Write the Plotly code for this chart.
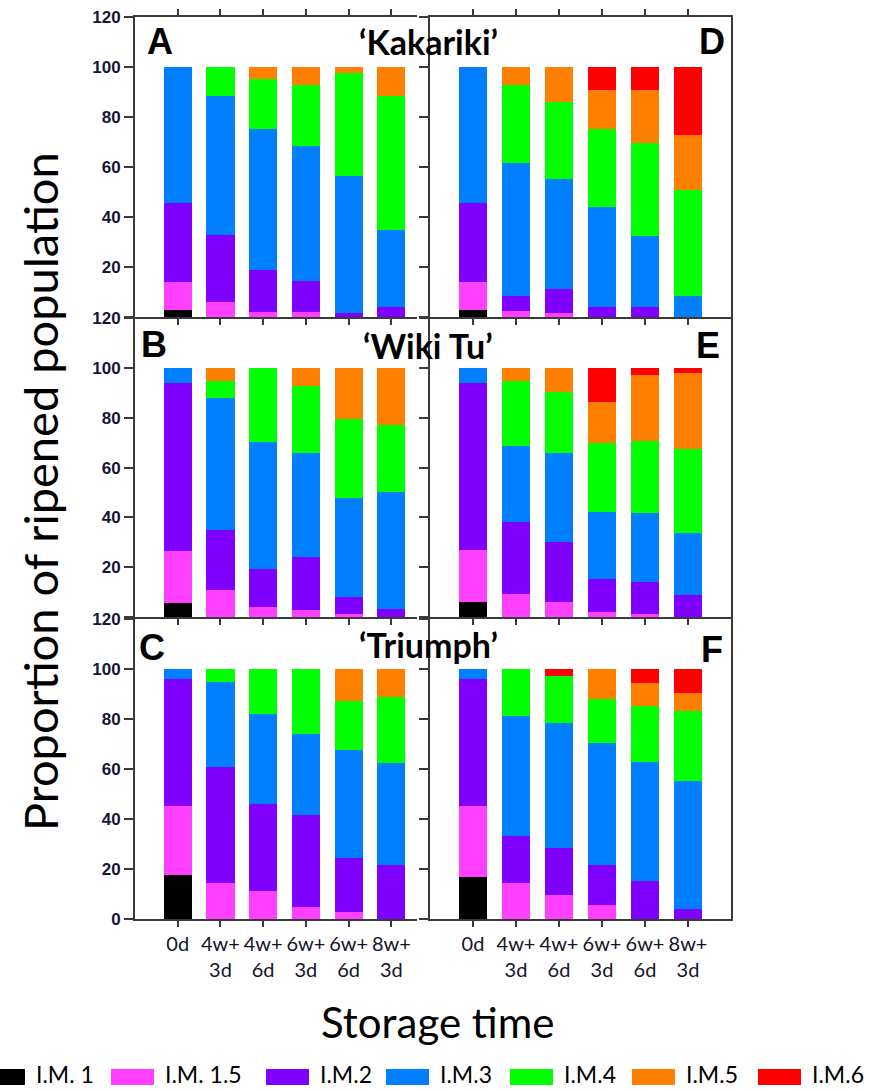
import plotly.graph_objects as go

W, H = 870, 1091

categories = ["0d", "4w+<br>3d", "4w+<br>6d", "6w+<br>3d", "6w+<br>6d", "8w+<br>3d"]
stages = ["I.M. 1", "I.M. 1.5", "I.M.2", "I.M.3", "I.M.4", "I.M.5", "I.M.6"]
colors = ["#000000", "#FF40FF", "#8000FF", "#0080FF", "#00FF00", "#FF8000", "#FF0000"]
cultivars = ["\u2018Kakariki\u2019", "\u2018Wiki Tu\u2019", "\u2018Triumph\u2019"]
y_ticks = [0, 20, 40, 60, 80, 100, 120]

# Each panel: one list per stage (I.M.1 ... I.M.6), values per storage time (%)
panel_A = [
    [3.0, 0, 0, 0, 0, 0],
    [11.2, 6.2, 2.3, 2.3, 0, 0],
    [31.3, 26.6, 16.6, 12.3, 1.6, 4.0],
    [54.5, 55.5, 56.2, 53.8, 54.8, 30.7],
    [0, 11.7, 20.0, 24.3, 40.9, 53.6],
    [0, 0, 4.9, 7.3, 2.7, 11.7],
    [0, 0, 0, 0, 0, 0],
]
panel_D = [
    [3.0, 0, 0, 0, 0, 0],
    [11.2, 2.7, 1.6, 0, 0, 0],
    [31.3, 5.8, 9.7, 4.0, 4.0, 0],
    [54.5, 52.9, 43.9, 39.9, 28.4, 8.5],
    [0, 31.3, 30.8, 31.2, 37.0, 42.3],
    [0, 7.3, 14.0, 15.5, 21.2, 22.1],
    [0, 0, 0, 9.4, 9.4, 27.1],
]
panel_B = [
    [5.6, 0, 0, 0, 0, 0],
    [20.8, 10.9, 4.3, 2.9, 1.3, 0],
    [67.3, 23.9, 15.1, 21.1, 6.7, 3.3],
    [6.3, 53.2, 50.8, 41.7, 39.9, 46.9],
    [0, 6.8, 29.8, 27.0, 31.5, 26.8],
    [0, 5.2, 0, 7.3, 20.6, 23.0],
    [0, 0, 0, 0, 0, 0],
]
panel_E = [
    [6.1, 0, 0, 0, 0, 0],
    [20.9, 9.2, 6.3, 2.3, 1.3, 0],
    [66.7, 29.1, 24.0, 13.1, 13.0, 8.9],
    [6.3, 30.3, 35.4, 26.9, 27.4, 24.7],
    [0, 26.2, 24.7, 27.4, 29.1, 33.7],
    [0, 5.2, 9.6, 16.5, 26.3, 30.4],
    [0, 0, 0, 13.8, 2.9, 2.3],
]
panel_C = [
    [17.6, 0, 0, 0, 0, 0],
    [27.8, 14.7, 11.4, 4.8, 2.9, 0],
    [50.6, 46.2, 34.7, 36.7, 21.7, 21.6],
    [4.0, 33.9, 35.8, 32.4, 42.9, 40.9],
    [0, 5.2, 18.1, 26.1, 19.9, 26.5],
    [0, 0, 0, 0, 12.6, 11.0],
    [0, 0, 0, 0, 0, 0],
]
panel_F = [
    [17.0, 0, 0, 0, 0, 0],
    [28.4, 14.7, 9.7, 5.7, 0, 0],
    [50.6, 18.4, 18.8, 15.9, 15.4, 4.1],
    [4.0, 48.1, 50.0, 48.9, 47.6, 51.0],
    [0, 18.8, 18.6, 17.7, 22.2, 28.3],
    [0, 0, 0, 11.8, 9.1, 6.9],
    [0, 0, 2.9, 0, 5.7, 9.7],
]


def px_x(v):
    return v / W


def px_y(v):
    return 1 - v / H


# layout geometry (pixels)
left_dom = (135, 417)
right_dom = (430, 731)
row_dom = [(16.6, 317.3), (317.8, 617.3), (619.0, 919.3)]

panels = [
    # (data, axis idx, side, row, letter)
    (panel_A, 1, "L", 0, "A"),
    (panel_B, 2, "L", 1, "B"),
    (panel_C, 3, "L", 2, "C"),
    (panel_D, 4, "R", 0, "D"),
    (panel_E, 5, "R", 1, "E"),
    (panel_F, 6, "R", 2, "F"),
]

fig = go.Figure()
axis_color = "#3a3a3a"
tick_font = dict(family="Liberation Sans, Arial", size=17, color="#15153a", weight="bold")
xtick_font = dict(family="Lato, Open Sans", size=20, color="#15152a")

for data, idx, side, row, letter in panels:
    sfx = "" if idx == 1 else str(idx)
    for s, name in enumerate(stages):
        fig.add_trace(go.Bar(
            x=categories, y=data[s], name=name,
            marker=dict(color=colors[s], line=dict(width=0)),
            width=0.66, showlegend=False,
            xaxis="x" + sfx, yaxis="y" + sfx,
        ))
    xd = left_dom if side == "L" else right_dom
    yd = row_dom[row]
    xrng = [-1, 5.6] if side == "L" else [-1, 6]
    fig.layout["xaxis" + sfx] = dict(
        domain=[px_x(xd[0]), px_x(xd[1])], anchor="y" + sfx,
        type="category", range=xrng, automargin=False,
        showline=True, linecolor=axis_color, linewidth=2,
        ticks="outside", ticklen=6, tickwidth=1.5, tickcolor=axis_color,
        showgrid=False, zeroline=False,
        showticklabels=(row == 2), tickfont=xtick_font,
        mirror="ticks" if row == 0 else False,
    )
    fig.layout["yaxis" + sfx] = dict(
        domain=[px_y(yd[1]), px_y(yd[0])], anchor="x" + sfx,
        range=[0, 120], tickvals=y_ticks, automargin=False,
        ticktext=[("" if (t == 0 and row < 2) else str(t)) for t in y_ticks],
        showline=True, linecolor=axis_color, linewidth=2,
        ticks="outside", ticklen=9, tickwidth=1.5, tickcolor=axis_color,
        showgrid=False, zeroline=False,
        showticklabels=(side == "L"), tickfont=tick_font,
        mirror=(side == "R"),
    )

annotations = []
letter_pos = {"A": (160, 42), "B": (154, 344), "C": (152, 647),
              "D": (712, 42), "E": (708, 346), "F": (712, 649)}
for _, _, _, _, letter in panels:
    lx, ly = letter_pos[letter]
    annotations.append(dict(
        text=letter, x=px_x(lx), y=px_y(ly), xref="paper", yref="paper",
        showarrow=False, xanchor="center", yanchor="middle",
        font=dict(family="Liberation Sans, Arial", size=36, color="#000000", weight="bold"),
    ))

title_y = [42, 345, 644]
for name, ty in zip(cultivars, title_y):
    annotations.append(dict(
        text=name, x=px_x(428), y=px_y(ty), xref="paper", yref="paper",
        showarrow=False, xanchor="center", yanchor="middle",
        font=dict(family="Lato, Open Sans", size=34, color="#000000", weight="bold"),
    ))

annotations.append(dict(
    text="Proportion of ripened population", x=px_x(40), y=px_y(492),
    xref="paper", yref="paper", showarrow=False, textangle=-90,
    xanchor="center", yanchor="middle",
    font=dict(family="Lato, Open Sans", size=47, color="#000000"),
))
annotations.append(dict(
    text="Storage time", x=px_x(437), y=px_y(1022),
    xref="paper", yref="paper", showarrow=False,
    xanchor="center", yanchor="middle",
    font=dict(family="Lato, Open Sans", size=42, color="#000000"),
))

# manual legend (wide swatches as in the reference)
leg_rect_x = [-18, 111, 266, 386, 510, 632, 758]
leg_y = 1077
shapes = []
for s, name in enumerate(stages):
    x0 = leg_rect_x[s]
    shapes.append(dict(
        type="rect", xref="paper", yref="paper",
        x0=px_x(x0), x1=px_x(x0 + 43), y0=px_y(leg_y + 8), y1=px_y(leg_y - 8),
        fillcolor=colors[s], line=dict(width=0),
    ))
    annotations.append(dict(
        text=name, x=px_x(x0 + 52), y=px_y(1090), xref="paper", yref="paper",
        showarrow=False, xanchor="left", yanchor="bottom",
        font=dict(family="Lato, Open Sans", size=23, color="#000000"),
    ))

fig.update_layout(
    width=W, height=H, margin=dict(l=0, r=0, t=0, b=0, autoexpand=False),
    barmode="stack", bargap=0.34,
    paper_bgcolor="white", plot_bgcolor="rgba(0,0,0,0)",
    showlegend=False, annotations=annotations, shapes=shapes,
)

fig.write_html("out.html")
